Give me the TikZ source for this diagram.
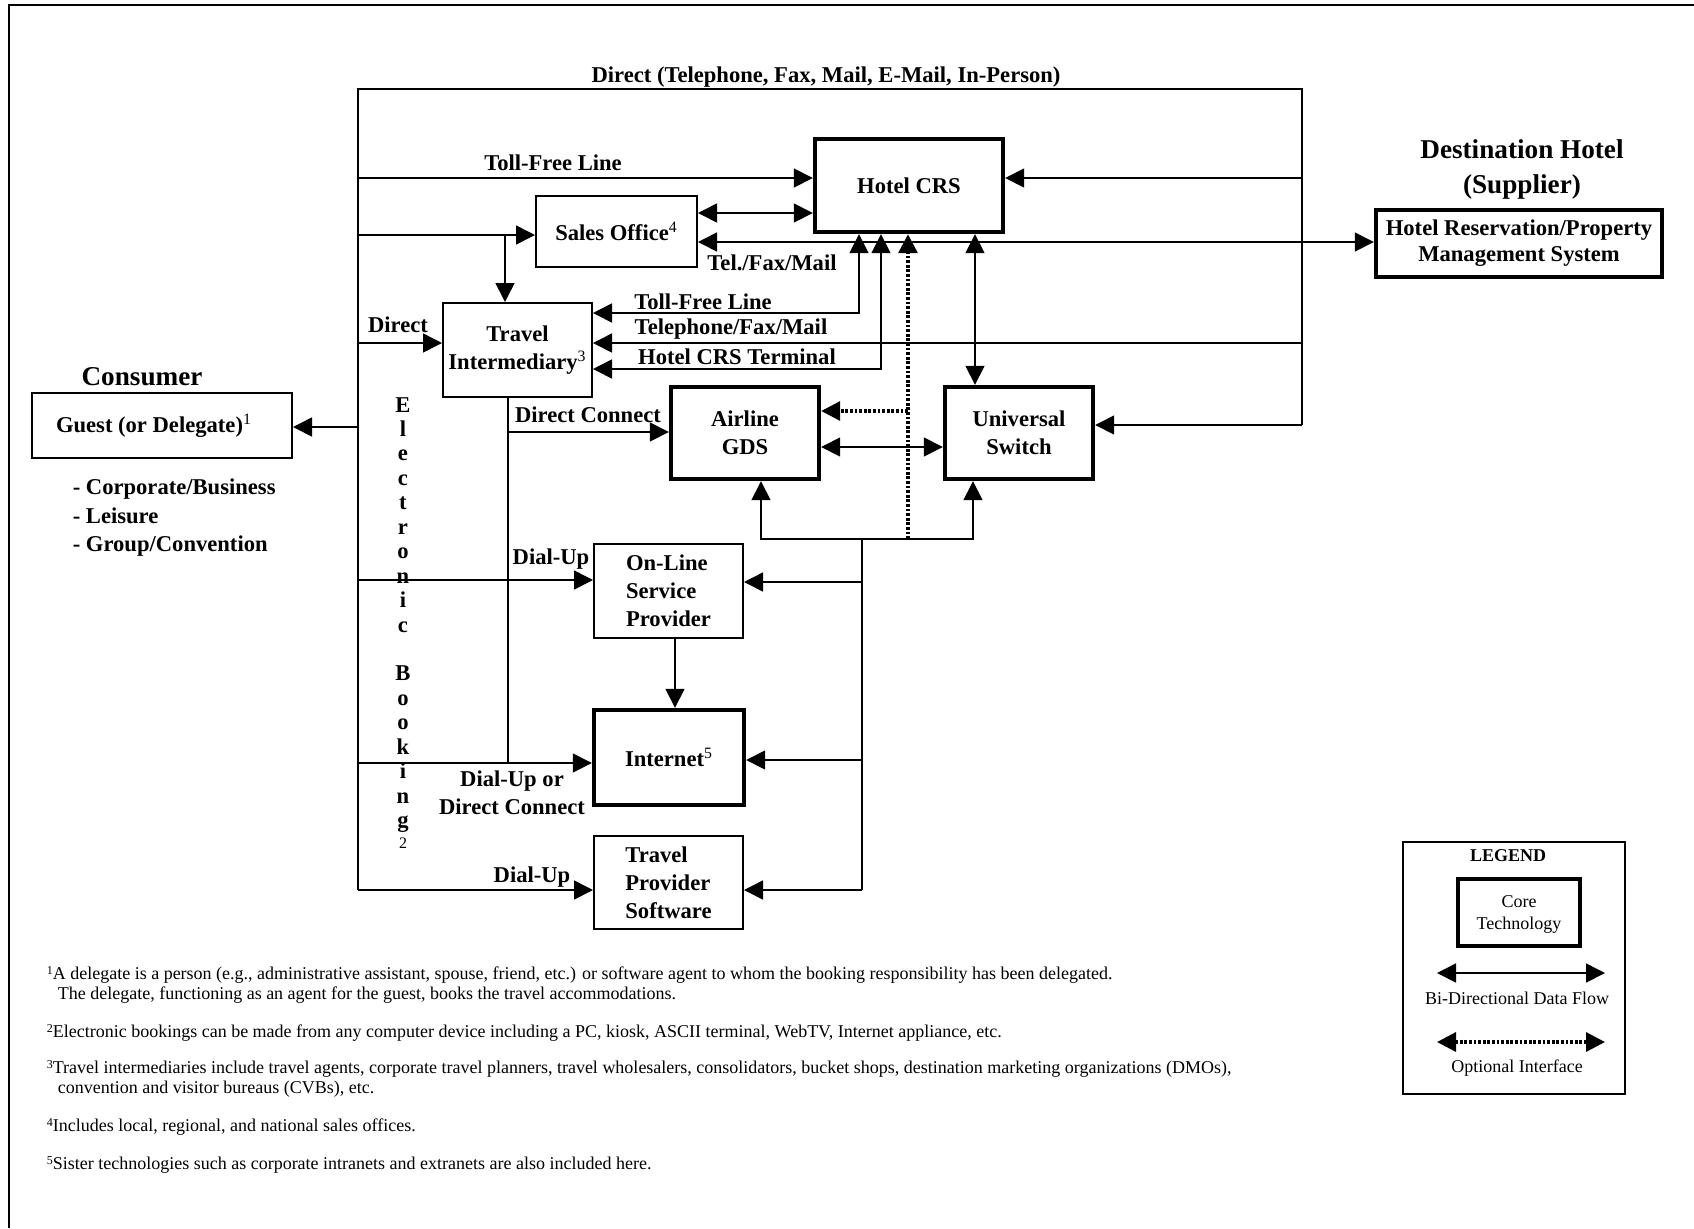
\documentclass[tikz,border=0pt]{standalone}
\usepackage{fontspec}
\setmainfont{Liberation Serif}
\usetikzlibrary{arrows.meta}

% type sizes
\newcommand\lblfont{\fontsize{11.3}{14}\selectfont\bfseries}
\newcommand\ttlfont{\fontsize{13.6}{17.5}\selectfont\bfseries}
\newcommand\fnfont{\fontsize{9}{11}\selectfont}
\newcommand\legfont{\fontsize{9}{11}\selectfont}
\newcommand\fnsup[1]{\textsuperscript{\mdseries #1}}
\newcommand\notemark[1]{\raisebox{2.2pt}{\fontsize{6}{6}\selectfont #1}}

\begin{document}
\begin{tikzpicture}[x=0.5pt,y=-0.5pt,
  line width=0.8pt,
  >={Triangle[length=9.5pt,width=9.5pt]},
  box/.style={draw, line width=1pt, inner sep=0pt, align=center, font=\lblfont},
  corebox/.style={box, line width=2.2pt},
  lbl/.style={font=\lblfont, inner sep=0pt, align=center},
  ttl/.style={font=\ttlfont, inner sep=0pt, align=center},
  leg/.style={font=\legfont, inner sep=0pt, align=center},
  fn/.style={font=\fnfont, inner sep=0pt, anchor=base west},
  opt/.style={line width=1.6pt, dash pattern=on 1.4pt off 0.9pt},
]
\useasboundingbox (0,0) rectangle (1694,1228);

% page frame
\draw[line width=1.2pt] (9,1228) -- (9,5) -- (1694,5);

% ---------- boxes ----------
\node[corebox, minimum width=94pt, minimum height=46.5pt] (crs) at (909,185.5) {Hotel CRS};
\node[box, minimum width=80.5pt, minimum height=35.5pt] (sales) at (616.5,231.5) {Sales Office\fnsup{4}};
\node[box, minimum width=74.5pt, minimum height=47pt] (ti) at (517.5,350) {Travel\\Intermediary\fnsup{3}};
\node[box, minimum width=130pt, minimum height=32.5pt] (guest) at (162,425.5) {\hspace*{-8pt}Guest (or Delegate)\fnsup{1}};
\node[corebox, minimum width=74pt, minimum height=46pt] (gds) at (745,433) {Airline\\GDS};
\node[corebox, minimum width=74pt, minimum height=46pt] (switch) at (1019,433) {Universal\\Switch};
\node[box, align=left, minimum width=74.5pt, minimum height=47pt] (osp) at (668.5,591) {On-Line\\Service\\Provider};
\node[corebox, minimum width=75pt, minimum height=47.5pt] (inet) at (669,757.5) {Internet\fnsup{5}};
\node[box, align=left, minimum width=74.5pt, minimum height=46.5pt] (tps) at (668.5,882.5) {Travel\\Provider\\Software};
\node[corebox, minimum width=143pt, minimum height=33.5pt, font=\fontsize{11.3}{13}\selectfont\bfseries] (hrs) at (1519,243.5) {Hotel Reservation/Property\\Management System};

% ---------- headings and side texts ----------
\node[ttl] (tCons) at (142,377) {Consumer};
\node[ttl] (tDest) at (1522,169.5) {Destination Hotel\\(Supplier)};
\node[lbl, align=left, anchor=west, font=\fontsize{11.3}{14.25}\selectfont\bfseries] (tSeg) at (72,518) {- Corporate/Business\\- Leisure\\- Group/Convention};

% ---------- connector labels ----------
\node[lbl] (tDirectTop) at (826,77) {Direct (Telephone, Fax, Mail, E-Mail, In-Person)};
\node[lbl] (tToll1) at (553,163) {Toll-Free Line};
\node[lbl] (tTel) at (772,263) {Tel./Fax/Mail};
\node[lbl] (tToll2) at (703,302) {Toll-Free Line};
\node[lbl] (tPhone) at (731,329) {Telephone/Fax/Mail};
\node[lbl] (tTerm) at (737,357) {Hotel CRS Terminal};
\node[lbl] (tDirect) at (398,325) {Direct};
\node[lbl] (tDC) at (588,415) {Direct Connect};
\node[lbl] (tDU1) at (551,559) {Dial-Up};
\node[lbl] (tDU2) at (512,793) {Dial-Up or\\Direct Connect};
\node[lbl] (tDU3) at (532,877) {Dial-Up};

% vertical "Electronic Booking" lettering
\foreach \ch/\k in {E/0,l/1,e/2,c/3,t/4,r/5,o/6,n/7,i/8,c/9,B/11,o/12,o/13,k/14,i/15,n/16,g/17}
  \node[font=\lblfont, inner sep=0pt, anchor=base] (eb\k) at (403,{412+24.45*\k}) {\ch};
\node[font=\fontsize{8}{8}\selectfont, inner sep=0pt, anchor=base] (ebsup) at (403,848) {2};

% ---------- routing points ----------
\coordinate (bTop) at (358,89);
\coordinate (rTop) at (1302,89);
\coordinate (bBot) at (358,890);
\coordinate (rBot) at (1302,425);
\foreach \yy in {178,213,235,242,313,343,369,411,425,427,432,447,539,580,582,760,763,890}
  \coordinate (y\yy) at (0,\yy);
\foreach \xx in {505,508,675,761,859,862,881,908,973,975}
  \coordinate (x\xx) at (\xx,0);

% ---------- connectors ----------
% outer distribution bus
\draw (bBot) -- (bTop) -- (rTop) -- (rBot);
\draw[->] (bTop |- y427) -- (guest.east |- y427);
\draw[->] (bTop |- y178) -- (crs.west |- y178);
\draw[->] (rTop |- y178) -- (crs.east |- y178);
\draw[<->] (sales.east |- y213) -- (crs.west |- y213);
\draw[->] (bTop |- y235) -- (sales.west |- y235);
\draw[->] (x505 |- y235) -- (ti.north -| x505);
\draw[<->] (sales.east |- y242) -- (hrs.west |- y242);
\draw[<->] (ti.east |- y313) -- (x859 |- y313) -- (crs.south -| x859);
\draw[<->] (ti.east |- y369) -- (x881 |- y369) -- (crs.south -| x881);
\draw[->] (rTop |- y343) -- (ti.east |- y343);
\draw[->] (bTop |- y343) -- (ti.west |- y343);
% travel intermediary links
\draw (ti.south -| x508) -- (x508 |- y763);
\draw[->] (x508 |- y432) -- (gds.west |- y432);
% optional interface
\draw[opt,->] (x908 |- y539) -- (crs.south -| x908);
\draw[opt,->] (x908 |- y411) -- (gds.east |- y411);
% core technology links
\draw[<->] (gds.east |- y447) -- (switch.west |- y447);
\draw[<->] (crs.south -| x975) -- (switch.north -| x975);
\draw[->] (rTop |- y425) -- (switch.east |- y425);
\draw[<->] (gds.south -| x761) -- (x761 |- y539) -- (x973 |- y539) -- (switch.south -| x973);
\draw (x862 |- y539) -- (x862 |- y890);
\draw[->] (x862 |- y582) -- (osp.east |- y582);
\draw[->] (x862 |- y760) -- (inet.east |- y760);
\draw[->] (x862 |- y890) -- (tps.east |- y890);
% electronic booking channels
\draw[->] (bTop |- y580) -- (osp.west |- y580);
\draw[->] (osp.south -| x675) -- (inet.north -| x675);
\draw[->] (bTop |- y763) -- (inet.west |- y763);
\draw[->] (bBot) -- (tps.west |- bBot);

% ---------- legend ----------
\node[draw, line width=1pt, minimum width=111pt, minimum height=126pt, inner sep=0pt] (legend) at (1514,968) {};
\node[leg, font=\legfont\bfseries] (tLeg) at (1508,856) {LEGEND};
\node[corebox, font=\legfont, minimum width=61pt, minimum height=33.5pt] (core) at (1519,912.5) {\\[-3pt]Core\\Technology};
\coordinate (lgA) at (1437,973);
\coordinate (lgB) at (1605,973);
\draw[<->] (lgA) -- (lgB);
\node[leg] (tBi) at (1517,998) {Bi-Directional Data Flow};
\coordinate (lgC) at (1437,1042);
\coordinate (lgD) at (1605,1042);
\draw[opt,<->] (lgC) -- (lgD);
\node[leg] (tOpt) at (1517,1068) {Optional Interface};

% ---------- footnotes ----------
\node[fn] (fn1a) at (46,979) {\notemark{1}A delegate is a person (e.g., administrative assistant, spouse, friend, etc.) or software agent to whom the booking responsibility has been delegated.};
\node[fn] (fn1b) at (57,999) {The delegate, functioning as an agent for the guest, books the travel accommodations.};
\node[fn] (fn2) at (46,1037) {\notemark{2}Electronic bookings can be made from any computer device including a PC, kiosk, ASCII terminal, WebTV, Internet appliance, etc.};
\node[fn] (fn3a) at (46,1073) {\notemark{3}Travel intermediaries include travel agents, corporate travel planners, travel wholesalers, consolidators, bucket shops, destination marketing organizations (DMOs),};
\node[fn] (fn3b) at (57,1093) {convention and visitor bureaus (CVBs), etc.};
\node[fn] (fn4) at (46,1131) {\notemark{4}Includes local, regional, and national sales offices.};
\node[fn] (fn5) at (46,1169) {\notemark{5}Sister technologies such as corporate intranets and extranets are also included here.};
\end{tikzpicture}
\end{document}
